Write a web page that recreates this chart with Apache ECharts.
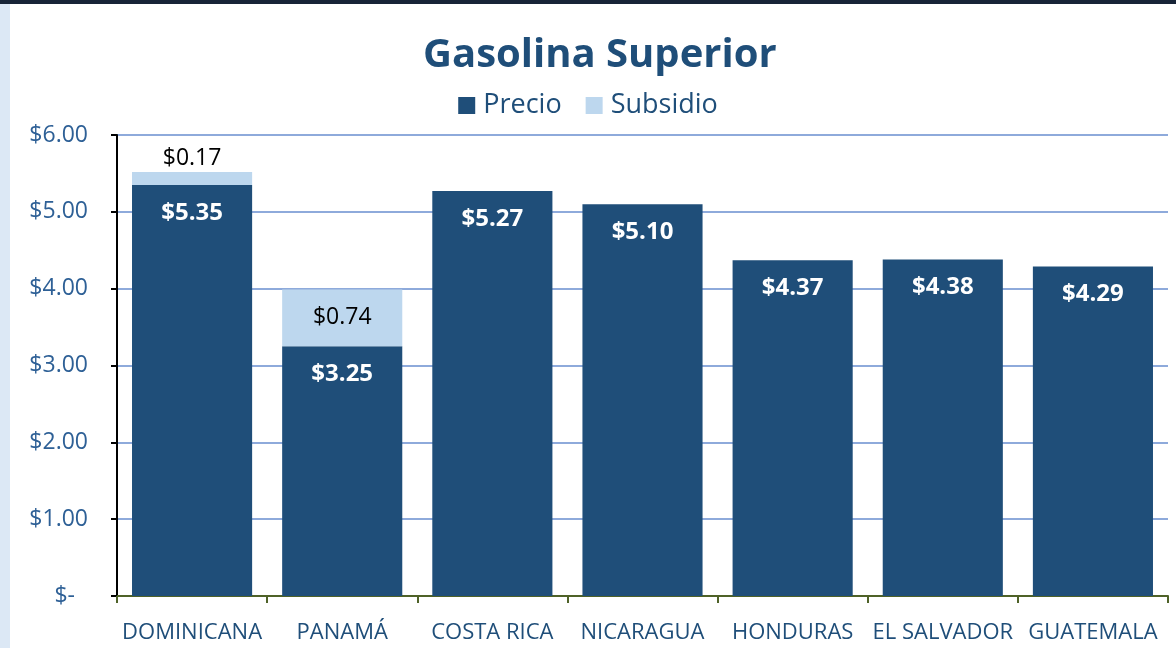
<!DOCTYPE html>
<html>
<head>
<meta charset="utf-8">
<script src="https://cdn.jsdelivr.net/npm/echarts@6/dist/echarts.min.js"></script>
<style>
  html, body { margin: 0; padding: 0; background: #ffffff; }
  #chart { width: 1176px; height: 648px; }
</style>
</head>
<body>
<div id="chart"></div>
<script>
var paises = ['DOMINICANA', 'PANAMÁ', 'COSTA RICA', 'NICARAGUA', 'HONDURAS', 'EL SALVADOR', 'GUATEMALA'];
var precio = [5.35, 3.25, 5.27, 5.10, 4.37, 4.38, 4.29];
var subsidio = [0.17, 0.74, null, null, null, null, null];

var fontName = '"Open Sans", sans-serif';

var chart = echarts.init(document.getElementById('chart'));

// etiqueta del subsidio: arriba si la barra es muy baja, adentro si cabe
var subsidioData = subsidio.map(function (v) {
    if (v === null) return null;
    return {
        value: v,
        label: { position: v < 0.3 ? 'top' : 'inside' }
    };
});

chart.setOption({
    backgroundColor: '#ffffff',
    animation: false,
    graphic: [
        { type: 'rect', left: 0, top: 0, shape: { width: 1176, height: 4 }, style: { fill: '#172437' } },
        { type: 'rect', left: 0, top: 4, shape: { width: 10, height: 644 }, style: { fill: '#dce8f5' } }
    ],
    title: {
        text: 'Gasolina Superior',
        left: 418,
        top: 31,
        textStyle: {
            fontFamily: fontName,
            fontSize: 40,
            fontWeight: 'bold',
            color: '#1f4e79'
        }
    },
    legend: {
        data: ['Precio', 'Subsidio'],
        left: 'center',
        top: 87,
        itemWidth: 17,
        itemHeight: 17,
        itemGap: 24,
        icon: 'rect',
        textStyle: {
            fontFamily: fontName,
            fontSize: 27,
            color: '#1f4e79',
            padding: [0, 0, 0, 3]
        }
    },
    grid: { left: 117, right: 8, top: 135, bottom: 52 },
    xAxis: {
        type: 'category',
        data: paises,
        axisLine: { lineStyle: { color: '#4f6228', width: 2 } },
        axisTick: { show: true, length: 7, lineStyle: { color: '#4f6228', width: 2 } },
        axisLabel: {
            interval: 0,
            margin: 26,
            fontFamily: fontName,
            fontSize: 22,
            color: '#1f4e79'
        }
    },
    yAxis: {
        type: 'value',
        min: 0,
        max: 6,
        interval: 1,
        axisLine: { show: true, lineStyle: { color: '#000000', width: 2 } },
        axisTick: { show: true, length: 6, lineStyle: { color: '#000000', width: 2 } },
        splitLine: { lineStyle: { color: '#8eaadb', width: 2 } },
        axisLabel: {
            margin: 29,
            fontFamily: fontName,
            fontSize: 23,
            color: '#2e6096',
            formatter: function (v) {
                return v === 0 ? '{z|$-}' : '$' + v.toFixed(2);
            },
            rich: {
                z: { fontFamily: fontName, fontSize: 23, color: '#2e6096', padding: [0, 13, 0, 0] }
            }
        }
    },
    series: [
        {
            name: 'Precio',
            type: 'bar',
            stack: 'total',
            barCategoryGap: '20%',
            data: precio,
            itemStyle: { color: '#1f4e79' },
            label: {
                show: true,
                position: 'insideTop',
                distance: 16,
                fontFamily: fontName,
                fontSize: 24,
                fontWeight: 'bold',
                color: '#ffffff',
                formatter: function (p) { return '$' + p.value.toFixed(2); }
            }
        },
        {
            name: 'Subsidio',
            type: 'bar',
            stack: 'total',
            data: subsidioData,
            itemStyle: { color: '#bdd7ee' },
            label: {
                show: true,
                distance: 2,
                fontFamily: fontName,
                fontSize: 23,
                color: '#000000',
                formatter: function (p) { return '$' + p.value.toFixed(2); }
            }
        }
    ]
});
</script>
</body>
</html>
